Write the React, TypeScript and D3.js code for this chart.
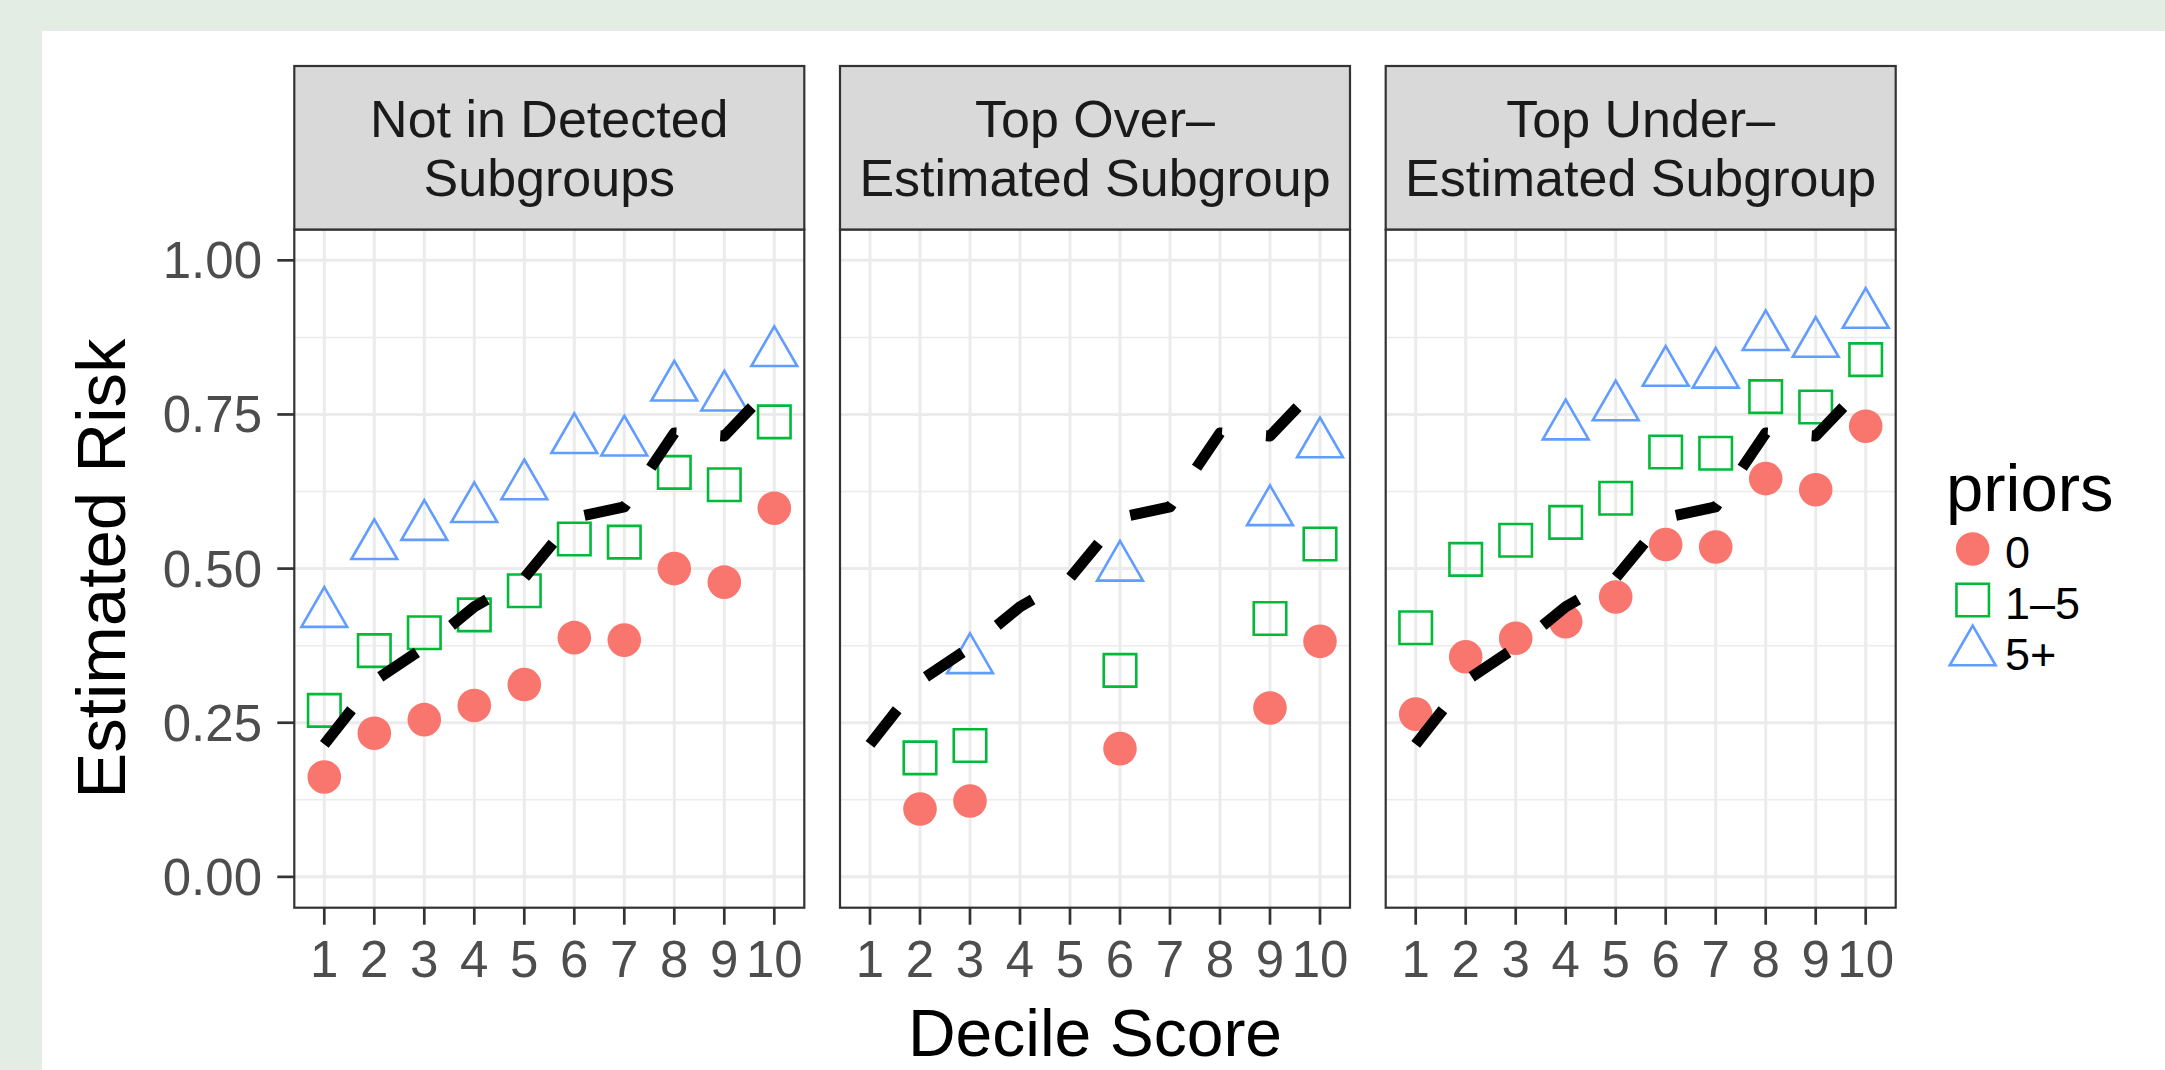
import React, { useEffect, useRef } from 'react'
import * as d3 from 'd3'

const deciles = [1, 2, 3, 4, 5, 6, 7, 8, 9, 10]
const panelTitles = [
  ['Not in Detected', 'Subgroups'],
  ['Top Over–', 'Estimated Subgroup'],
  ['Top Under–', 'Estimated Subgroup'],
]
const priorsLevels = ['0', '1–5', '5+']
const yTicks = [0, 0.25, 0.5, 0.75, 1]
const yMinorTicks = [0.125, 0.375, 0.625, 0.875]

// observed rate per decile, drawn dashed in every panel
const overallRate = [0.215, 0.318, 0.372, 0.438, 0.485, 0.583, 0.6, 0.72, 0.715, 0.8]

// Not in Detected Subgroups
const notDetected0 = [0.162, 0.233, 0.255, 0.278, 0.312, 0.388, 0.384, 0.5, 0.478, 0.598]
const notDetected15 = [0.27, 0.367, 0.396, 0.425, 0.464, 0.548, 0.543, 0.656, 0.636, 0.738]
const notDetected5p = [0.427, 0.537, 0.568, 0.597, 0.634, 0.709, 0.705, 0.794, 0.778, 0.85]

// Top Over-Estimated Subgroup (null = no point)
const overEst0 = [null, 0.11, 0.123, null, null, 0.208, null, null, 0.274, 0.382]
const overEst15 = [null, 0.193, 0.213, null, null, 0.335, null, null, 0.419, 0.54]
const overEst5p = [null, null, 0.352, null, null, 0.502, null, null, 0.592, 0.702]

// Top Under-Estimated Subgroup
const underEst0 = [0.264, 0.357, 0.387, 0.414, 0.454, 0.539, 0.535, 0.646, 0.628, 0.731]
const underEst15 = [0.404, 0.515, 0.546, 0.575, 0.614, 0.689, 0.687, 0.779, 0.762, 0.839]
const underEst5p = [null, null, null, 0.731, 0.762, 0.818, 0.815, 0.876, 0.865, 0.912]

const panelSeries = [
  [notDetected0, notDetected15, notDetected5p],
  [overEst0, overEst15, overEst5p],
  [underEst0, underEst15, underEst5p],
]

const colors = ['#F8766D', '#00BA38', '#619CFF']
const FONT = 'Liberation Sans, Arial, Helvetica, sans-serif'

export default function App() {
  const ref = useRef<SVGSVGElement>(null)

  useEffect(() => {
    const W = 2165
    const H = 1070
    const svg = d3.select(ref.current)
    svg.selectAll('*').remove()

    svg.append('rect').attr('width', W).attr('height', H).attr('fill', '#e4ede4')
    svg.append('rect').attr('x', 42).attr('y', 31).attr('width', W - 42).attr('height', H - 31).attr('fill', '#ffffff')

    const panelLeft = 294.3
    const panelW = 510
    const panelGap = 35.7
    const stripTop = 66
    const panelTop = 229.5
    const panelBottom = 907.7

    const y = d3.scaleLinear().domain([-0.05, 1.05]).range([panelBottom, panelTop])

    const symbols = [
      d3.symbol().type(d3.symbolCircle).size(Math.PI * 16.8 * 16.8),
      d3.symbol().type(d3.symbolSquare).size(32.5 * 32.5),
      d3.symbol().type(d3.symbolTriangle).size(910),
    ]

    panelTitles.forEach((title, p) => {
      const x0 = panelLeft + p * (panelW + panelGap)
      const x = d3.scalePoint<number>().domain(deciles).range([x0, x0 + panelW]).padding(0.6)
      const g = svg.append('g')

      // panel background + grid
      g.append('rect')
        .attr('x', x0).attr('y', panelTop)
        .attr('width', panelW).attr('height', panelBottom - panelTop)
        .attr('fill', '#ffffff')

      g.selectAll('.minor')
        .data(yMinorTicks)
        .enter()
        .append('line')
        .attr('x1', x0).attr('x2', x0 + panelW)
        .attr('y1', d => y(d)).attr('y2', d => y(d))
        .attr('stroke', '#EBEBEB').attr('stroke-width', 1.5)

      g.selectAll('.majorY')
        .data(yTicks)
        .enter()
        .append('line')
        .attr('x1', x0).attr('x2', x0 + panelW)
        .attr('y1', d => y(d)).attr('y2', d => y(d))
        .attr('stroke', '#EBEBEB').attr('stroke-width', 3)

      g.selectAll('.majorX')
        .data(deciles)
        .enter()
        .append('line')
        .attr('x1', d => x(d)).attr('x2', d => x(d))
        .attr('y1', panelTop).attr('y2', panelBottom)
        .attr('stroke', '#EBEBEB').attr('stroke-width', 3)

      // points
      panelSeries[p].forEach((values, s) => {
        const pts = deciles
          .map((d, i) => ({ decile: d, value: values[i] }))
          .filter(d => d.value !== null)
        g.selectAll('.pt' + s)
          .data(pts)
          .enter()
          .append('path')
          .attr('d', symbols[s]())
          .attr('transform', d => `translate(${x(d.decile)},${y(d.value as number)})`)
          .attr('fill', s === 0 ? colors[s] : 'none')
          .attr('stroke', s === 0 ? 'none' : colors[s])
          .attr('stroke-width', 2.6)
      })

      // dashed overall line
      const line = d3.line<number>()
        .x((d, i) => x(deciles[i]) as number)
        .y(d => y(d))
      g.append('path')
        .attr('d', line(overallRate))
        .attr('fill', 'none')
        .attr('stroke', '#000000')
        .attr('stroke-width', 11)
        .attr('stroke-dasharray', '44 44')
        .attr('stroke-linejoin', 'round')

      // panel border
      g.append('rect')
        .attr('x', x0).attr('y', panelTop)
        .attr('width', panelW).attr('height', panelBottom - panelTop)
        .attr('fill', 'none').attr('stroke', '#333333').attr('stroke-width', 2.2)

      // strip
      g.append('rect')
        .attr('x', x0).attr('y', stripTop)
        .attr('width', panelW).attr('height', panelTop - stripTop)
        .attr('fill', '#D9D9D9').attr('stroke', '#333333').attr('stroke-width', 2.2)
      title.forEach((t, k) => {
        g.append('text')
          .attr('x', x0 + panelW / 2)
          .attr('y', 137.3 + k * 58.4)
          .attr('text-anchor', 'middle')
          .attr('font-family', FONT)
          .attr('font-size', 52)
          .attr('fill', '#1A1A1A')
          .text(t)
      })

      // x axis
      g.selectAll('.xtick')
        .data(deciles)
        .enter()
        .append('line')
        .attr('x1', d => x(d)).attr('x2', d => x(d))
        .attr('y1', panelBottom).attr('y2', panelBottom + 17)
        .attr('stroke', '#333333').attr('stroke-width', 2.7)
      g.selectAll('.xlab')
        .data(deciles)
        .enter()
        .append('text')
        .attr('x', d => x(d))
        .attr('y', 976.7)
        .attr('text-anchor', 'middle')
        .attr('font-family', FONT)
        .attr('font-size', 51)
        .attr('fill', '#4D4D4D')
        .text(d => d)
    })

    // y axis (left panel only)
    const ya = svg.append('g')
    ya.selectAll('line')
      .data(yTicks)
      .enter()
      .append('line')
      .attr('x1', panelLeft - 17).attr('x2', panelLeft)
      .attr('y1', d => y(d)).attr('y2', d => y(d))
      .attr('stroke', '#333333').attr('stroke-width', 2.7)
    ya.selectAll('text')
      .data(yTicks)
      .enter()
      .append('text')
      .attr('x', 262)
      .attr('y', d => y(d) + 18)
      .attr('text-anchor', 'end')
      .attr('font-family', FONT)
      .attr('font-size', 51)
      .attr('fill', '#4D4D4D')
      .text(d => d3.format('.2f')(d))

    // axis titles
    svg.append('text')
      .attr('transform', `translate(125,${(panelTop + panelBottom) / 2}) rotate(-90)`)
      .attr('text-anchor', 'middle')
      .attr('font-family', FONT)
      .attr('font-size', 69)
      .attr('fill', '#000000')
      .text('Estimated Risk')
    svg.append('text')
      .attr('x', panelLeft + panelW * 1.5 + panelGap)
      .attr('y', 1056)
      .attr('text-anchor', 'middle')
      .attr('font-family', FONT)
      .attr('font-size', 66)
      .attr('fill', '#000000')
      .text('Decile Score')

    // legend
    const lg = svg.append('g')
    lg.append('text')
      .attr('x', 1946).attr('y', 510.7)
      .attr('font-family', FONT)
      .attr('font-size', 67)
      .attr('fill', '#000000')
      .text('priors')
    priorsLevels.forEach((lab, s) => {
      const cy = 549 + s * 51
      lg.append('path')
        .attr('d', symbols[s]())
        .attr('transform', `translate(1972.7,${s === 2 ? cy + 1 : cy})`)
        .attr('fill', s === 0 ? colors[s] : 'none')
        .attr('stroke', s === 0 ? 'none' : colors[s])
        .attr('stroke-width', 2.6)
      lg.append('text')
        .attr('x', 2005).attr('y', cy + 18.5)
        .attr('font-family', FONT)
        .attr('font-size', 45)
        .attr('fill', '#000000')
        .text(lab)
    })
  }, [])

  return (
    <svg ref={ref} width={2165} height={1070} style={{ position: 'absolute', left: 0, top: 0 }} />
  )
}
